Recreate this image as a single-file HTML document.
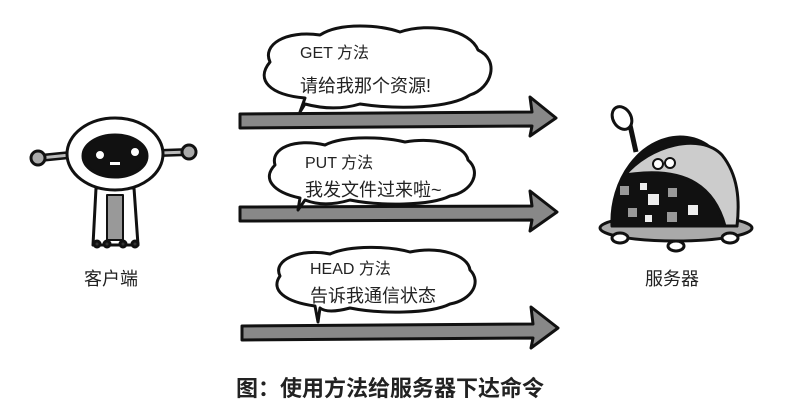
<!DOCTYPE html>
<html><head><meta charset="utf-8"><style>
html,body{margin:0;padding:0;background:#fff;}
svg{display:block;}
text{font-family:"Liberation Sans","Noto Sans CJK SC",sans-serif;fill:#222;}
</style></head><body>
<svg width="802" height="419" viewBox="0 0 802 419" xmlns="http://www.w3.org/2000/svg">
<g stroke="#111" stroke-width="3" stroke-linejoin="round">
<path d="M240 114 L532 112 L530 97 L556 118 L530 136 L532 126 L240 128 Z" fill="#888"/>
<path d="M240 207 L532 206 L530 191 L557 212 L530 231 L532 220 L240 221 Z" fill="#888"/>
<path d="M242 326 L533 324 L531 307 L558 328 L531 348 L533 338 L242 340 Z" fill="#888"/>
<path d="M300 112 L305 98 C270 95 255 80 270 62 C262 45 285 30 320 35 C340 22 380 25 400 32 C430 22 470 30 478 50 C500 60 492 88 470 95 C450 108 400 110 360 104 C340 110 320 108 305 104 Z" fill="#fff"/>
<path d="M298 210 L300 198 C272 192 262 178 275 165 C270 148 295 138 325 145 C345 135 385 137 405 142 C435 137 465 145 468 160 C482 172 472 192 450 196 C430 206 380 206 350 200 C330 206 315 204 305 200 Z" fill="#fff"/>
<path d="M318 322 L315 306 C285 302 270 290 280 276 C272 260 300 248 330 254 C350 245 390 246 410 252 C440 246 468 255 470 270 C482 282 472 300 450 304 C430 314 380 314 350 308 C335 312 325 312 320 308 Z" fill="#fff"/>
<line x1="40" y1="158" x2="70" y2="155" stroke-width="8"/>
<line x1="40" y1="158" x2="70" y2="155" stroke="#bbb" stroke-width="3"/>
<line x1="160" y1="153" x2="188" y2="152" stroke-width="8"/>
<line x1="160" y1="153" x2="188" y2="152" stroke="#bbb" stroke-width="3"/>
<circle cx="38" cy="158" r="7" fill="#aaa"/>
<circle cx="189" cy="152" r="7" fill="#aaa"/>
<path d="M96 188 L93 245 L138 245 L134 188 Z" fill="#fff"/>
<rect x="107" y="195" width="16" height="45" fill="#999" stroke-width="2"/>
<circle cx="97" cy="244" r="3" fill="#333"/><circle cx="107" cy="244" r="3" fill="#333"/><circle cx="123" cy="244" r="3" fill="#333"/><circle cx="135" cy="244" r="3" fill="#333"/>
<ellipse cx="115" cy="154" rx="48" ry="36" fill="#fff"/>
<ellipse cx="115" cy="156" rx="32" ry="21" fill="#111"/>
<circle cx="100" cy="155" r="4.5" fill="#fff" stroke-width="1"/>
<circle cx="135" cy="152" r="4.5" fill="#fff" stroke-width="1"/>
<rect x="110" y="162" width="10" height="3" fill="#fff" stroke="none"/>
<line x1="630" y1="125" x2="636" y2="152" stroke-width="5"/>
<ellipse cx="622" cy="118" rx="9" ry="12" fill="#fff" transform="rotate(-30 622 118)"/>
<ellipse cx="676" cy="228" rx="76" ry="13" fill="#aaa"/>
<ellipse cx="620" cy="238" rx="8" ry="5" fill="#fff"/>
<ellipse cx="676" cy="246" rx="8" ry="5" fill="#fff"/>
<ellipse cx="730" cy="238" rx="8" ry="5" fill="#fff"/>
<path d="M612 226 C610 180 640 138 680 137 C720 137 740 180 737 226 Z" fill="#111"/>
<path d="M625 175 C650 145 700 132 722 155 C738 175 740 200 737 226 L725 226 C715 190 690 165 625 175 Z" fill="#ccc"/>
<circle cx="658" cy="164" r="5" fill="#fff" stroke-width="2"/>
<circle cx="670" cy="163" r="5" fill="#fff" stroke-width="2"/>
<g stroke="none">
<rect x="620" y="186" width="9" height="9" fill="#999"/><rect x="640" y="183" width="7" height="7" fill="#eee"/>
<rect x="648" y="194" width="11" height="11" fill="#eee"/><rect x="668" y="188" width="9" height="9" fill="#999"/>
<rect x="628" y="208" width="9" height="9" fill="#999"/><rect x="645" y="215" width="7" height="7" fill="#eee"/>
<rect x="667" y="212" width="10" height="10" fill="#999"/><rect x="688" y="205" width="10" height="10" fill="#eee"/>
</g>
</g>
<text x="300" y="58" font-size="16">GET 方法</text>
<text x="300" y="92" font-size="18">请给我那个资源!</text>
<text x="305" y="168" font-size="16">PUT 方法</text>
<text x="305" y="196" font-size="18">我发文件过来啦~</text>
<text x="310" y="274" font-size="16">HEAD 方法</text>
<text x="310" y="302" font-size="18">告诉我通信状态</text>
<text x="111" y="285" font-size="18" text-anchor="middle">客户端</text>
<text x="672" y="285" font-size="18" text-anchor="middle">服务器</text>
<text x="390" y="396" font-size="22" font-weight="bold" text-anchor="middle">图：使用方法给服务器下达命令</text>
</svg>
</body></html>
